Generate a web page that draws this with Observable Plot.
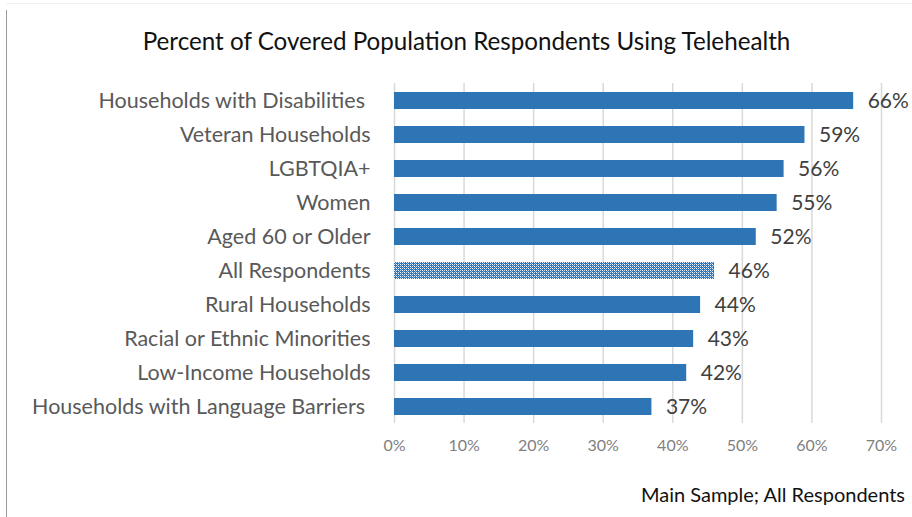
<!DOCTYPE html>
<html><head><meta charset="utf-8">
<script src="https://cdn.jsdelivr.net/npm/d3@7"></script>
<script src="https://cdn.jsdelivr.net/npm/@observablehq/plot@0.6"></script>
<style>
body{margin:0;background:#fff;}
#wrap{position:relative;width:912px;height:517px;overflow:hidden;font-family:Lato,sans-serif;background:#fff;}
#title{position:absolute;top:26px;left:0;width:933px;text-align:center;font-size:24.2px;color:#111;white-space:nowrap;}
#chart{position:absolute;top:60px;left:0;}
#caption{position:absolute;top:482px;right:7px;font-size:20px;color:#111;white-space:nowrap;}
#lborder{position:absolute;left:6px;top:10px;bottom:0;width:1px;background:#9a9a9a;}
#tborder{position:absolute;left:6px;right:0;top:3px;height:1px;background:#f0f0f0;}
</style>
</head><body>
<div id="wrap">
<div id="tborder"></div>
<div id="lborder"></div>
<div id="title">Percent of Covered Population Respondents Using Telehealth</div>
<div id="chart"></div>
<div id="caption">Main Sample; All Respondents</div>
</div>
<script>
const categories = [
  "Households with Disabilities\u00a0",
  "Veteran Households",
  "LGBTQIA+",
  "Women",
  "Aged 60 or Older",
  "All Respondents",
  "Rural Households",
  "Racial or Ethnic Minorities",
  "Low-Income Households",
  "Households with Language Barriers\u00a0"
];
const values = [66, 59, 56, 55, 52, 46, 44, 43, 42, 37];
const xTicks = [0, 10, 20, 30, 40, 50, 60, 70];
const highlighted = "All Respondents";

const data = categories.map((c, i) => ({label: c, value: values[i]}));

const plot = Plot.plot({
  width: 912,
  height: 400,
  marginTop: 23,
  marginBottom: 37,
  marginLeft: 394,
  marginRight: 31,
  style: {fontFamily: "Lato, sans-serif", background: "transparent"},
  x: {domain: [0, 70], ticks: xTicks, tickFormat: d => d + "%", label: null},
  y: {domain: categories, label: null, paddingInner: 0.5, paddingOuter: 0.25},
  marks: [
    Plot.gridX(xTicks, {stroke: "#d9d9d9", strokeOpacity: 1, strokeWidth: 1.5}),
    Plot.barX(data.filter(d => d.label !== highlighted), {x: "value", y: "label", fill: "#2E75B6"}),
    Plot.barX(data.filter(d => d.label === highlighted), {x: "value", y: "label", fill: "url(#checks)"}),
    Plot.text(data, {x: "value", y: "label", text: d => d.value + "%", textAnchor: "start", dx: 14, fontSize: 21, fill: "#404040"}),
    Plot.axisX({ticks: xTicks, tickFormat: d => d + "%", tickSize: 0, tickPadding: 16, fontSize: 16, color: "#7f7f7f", label: null}),
    Plot.axisY({tickSize: 0, tickPadding: 24, fontSize: 21.5, color: "#595959", label: null})
  ]
});

const svg = d3.select(plot);
const defs = svg.insert("defs", ":first-child");
const pat = defs.append("pattern").attr("id", "checks").attr("patternUnits", "userSpaceOnUse")
  .attr("width", 4).attr("height", 4);
pat.append("rect").attr("width", 4).attr("height", 4).attr("fill", "#2E75B6");
pat.append("rect").attr("x", 0).attr("y", 0).attr("width", 1).attr("height", 1).attr("fill", "#ffffff");
pat.append("rect").attr("x", 2).attr("y", 2).attr("width", 1).attr("height", 1).attr("fill", "#ffffff");
pat.append("rect").attr("x", 2).attr("y", 0).attr("width", 1).attr("height", 1).attr("fill", "#d4e3f3");
pat.append("rect").attr("x", 0).attr("y", 2).attr("width", 1).attr("height", 1).attr("fill", "#d4e3f3");
pat.append("rect").attr("x", 1).attr("y", 1).attr("width", 1).attr("height", 1).attr("fill", "#8fb5de");
pat.append("rect").attr("x", 3).attr("y", 3).attr("width", 1).attr("height", 1).attr("fill", "#8fb5de");

document.getElementById("chart").appendChild(plot);
</script>
</body></html>
